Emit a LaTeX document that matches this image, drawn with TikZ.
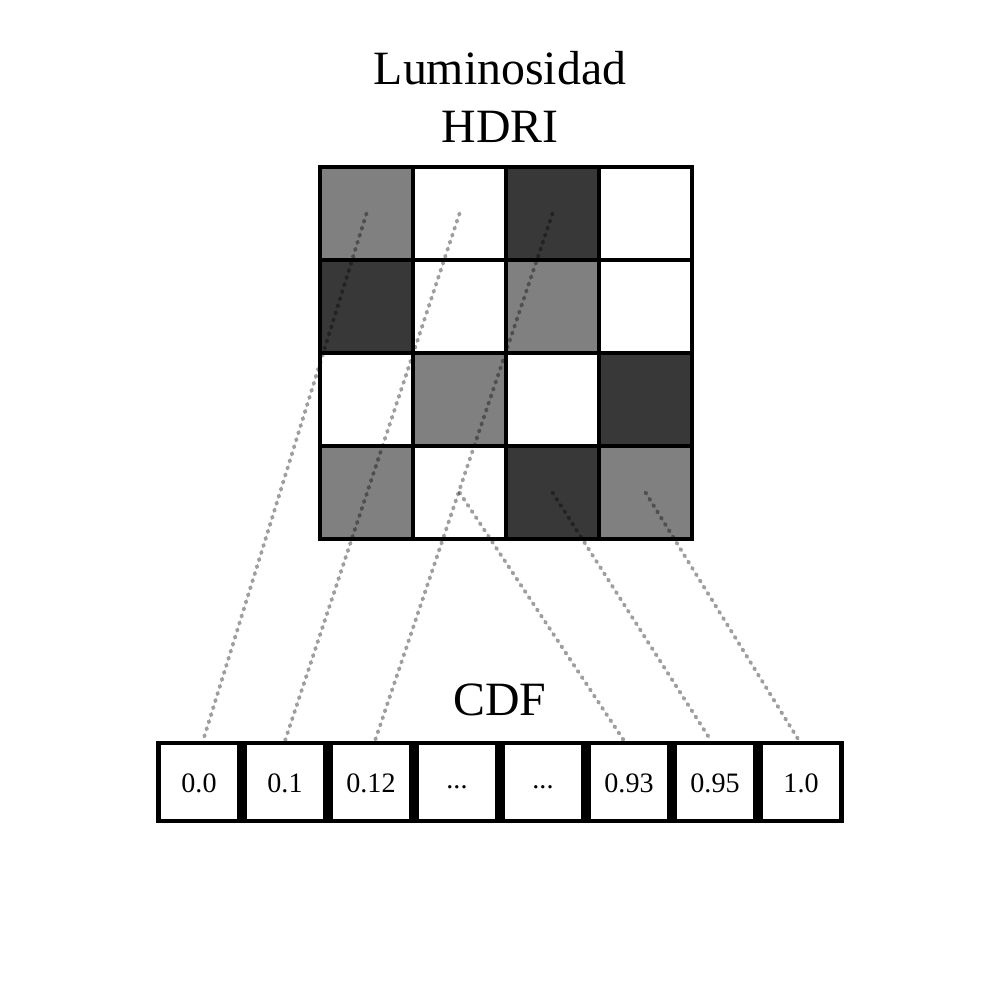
\documentclass[tikz,border=0pt]{standalone}
\usepackage{fontspec}
\setmainfont{Liberation Serif}
\usetikzlibrary{positioning}

\begin{document}
\begin{tikzpicture}[align=center,
    cell/.style={draw=black, line width=1.3pt, rectangle, minimum size=0.93cm, inner sep=0pt, outer sep=0pt},
    lgray/.style={fill=black!50},
    dgray/.style={fill=black!78},
    slot/.style={draw=black, line width=1.3pt, rectangle, minimum width=0.815cm, minimum height=0.78cm, inner sep=0pt, text height=5.7pt, text depth=0pt, font=\fontsize{8}{9.6}\selectfont},
    link/.style={black, opacity=0.38, line width=1.1pt, line cap=round, dash pattern=on 0.4pt off 1.7pt}]
      \useasboundingbox (0,0) rectangle (10,10);
      \node[font=\fontsize{13.6}{16.5}\selectfont] (title) at (5.0,9.03) {Luminosidad\\HDRI};
      %
      \node[cell, lgray] (c11) at (3.665,7.865) {};
      \node[cell] (c12) at (4.595,7.865) {};
      \node[cell, dgray] (c13) at (5.525,7.865) {};
      \node[cell] (c14) at (6.455,7.865) {};
      %
      \node[cell, dgray] (c21) at (3.665,6.935) {};
      \node[cell] (c22) at (4.595,6.935) {};
      \node[cell, lgray] (c23) at (5.525,6.935) {};
      \node[cell] (c24) at (6.455,6.935) {};
      %
      \node[cell] (c31) at (3.665,6.005) {};
      \node[cell, lgray] (c32) at (4.595,6.005) {};
      \node[cell] (c33) at (5.525,6.005) {};
      \node[cell, dgray] (c34) at (6.455,6.005) {};
      %
      \node[cell, lgray] (c41) at (3.665,5.075) {};
      \node[cell] (c42) at (4.595,5.075) {};
      \node[cell, dgray] (c43) at (5.525,5.075) {};
      \node[cell, lgray] (c44) at (6.455,5.075) {};
      %
      \node[font=\fontsize{13.6}{16.5}\selectfont] (cdf) at (5.0,3.0) {CDF};
      \node[slot] (b1) at (1.99,2.18) {0.0};
      \node[slot] (b2) at (2.85,2.18) {0.1};
      \node[slot] (b3) at (3.71,2.18) {0.12};
      \node[slot] (b4) at (4.57,2.18) {\raisebox{0.9pt}{...}};
      \node[slot] (b5) at (5.43,2.18) {\raisebox{0.9pt}{...}};
      \node[slot] (b6) at (6.29,2.18) {0.93};
      \node[slot] (b7) at (7.15,2.18) {0.95};
      \node[slot] (b8) at (8.01,2.18) {1.0};
      %
      \draw[link] (c11.center) -- ([xshift=0.4mm]b1.north);
      \draw[link] (c12.center) -- (b2.north);
      \draw[link] (c13.center) -- ([xshift=0.4mm]b3.north);
      \draw[link] (c42.center) -- ([xshift=-0.5mm]b6.north);
      \draw[link] (c43.center) -- ([xshift=-0.4mm]b7.north);
      \draw[link] (c44.center) -- ([xshift=-0.2mm]b8.north);
    \end{tikzpicture}
\end{document}
